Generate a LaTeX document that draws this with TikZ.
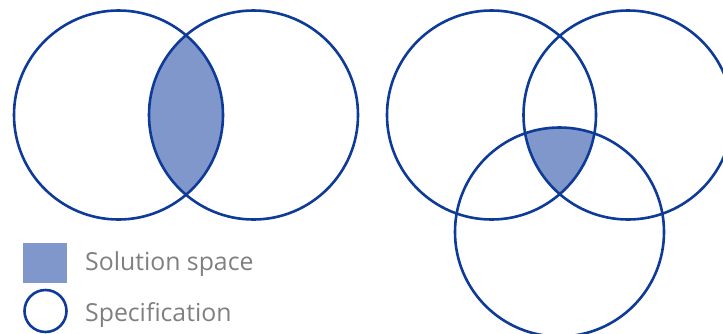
\documentclass[tikz,border=0pt]{standalone}
\usepackage{fontspec}
\setmainfont{Open Sans}
\definecolor{ringblue}{HTML}{0E3A98}
\definecolor{fillblue}{HTML}{7F97CB}
\definecolor{labelgray}{HTML}{7F7F7F}
\tikzset{
  spec/.style={draw=ringblue, line width=2.6pt},
  legtext/.style={anchor=base west, inner sep=0pt, text=labelgray, font=\fontsize{24.8}{28}\selectfont}
}
\begin{document}
\begin{tikzpicture}[x=1pt,y=-1pt]
\useasboundingbox (0,0) rectangle (723,333);
\clip (0,0) rectangle (723,333);
% left pair: shaded lens
\begin{scope}
  \clip (118.5,115) circle (104.5);
  \fill[fillblue] (253.5,115) circle (104.5);
\end{scope}
% right triple: shaded centre
\begin{scope}
  \clip (491.5,115) circle (104.5);
  \clip (628,115) circle (104.5);
  \fill[fillblue] (559.5,232) circle (104.5);
\end{scope}
\node[spec, circle, minimum size=209pt, inner sep=0pt] (a1) at (118.5,115) {};
\node[spec, circle, minimum size=209pt, inner sep=0pt] (a2) at (253.5,115) {};
\node[spec, circle, minimum size=209pt, inner sep=0pt] (b1) at (491.5,115) {};
\node[spec, circle, minimum size=209pt, inner sep=0pt] (b2) at (628,115) {};
\node[spec, circle, minimum size=209pt, inner sep=0pt] (b3) at (559.5,232) {};
% legend
\fill[fillblue] (22.7,243.3) rectangle (66.7,283.3);
\node[spec, circle, minimum size=42pt, inner sep=0pt] (lc) at (45.5,311) {};
\node[legtext] (t1) at (85,270) {Solution space};
\node[legtext] (t2) at (85,321) {Specification};
\end{tikzpicture}
\end{document}
